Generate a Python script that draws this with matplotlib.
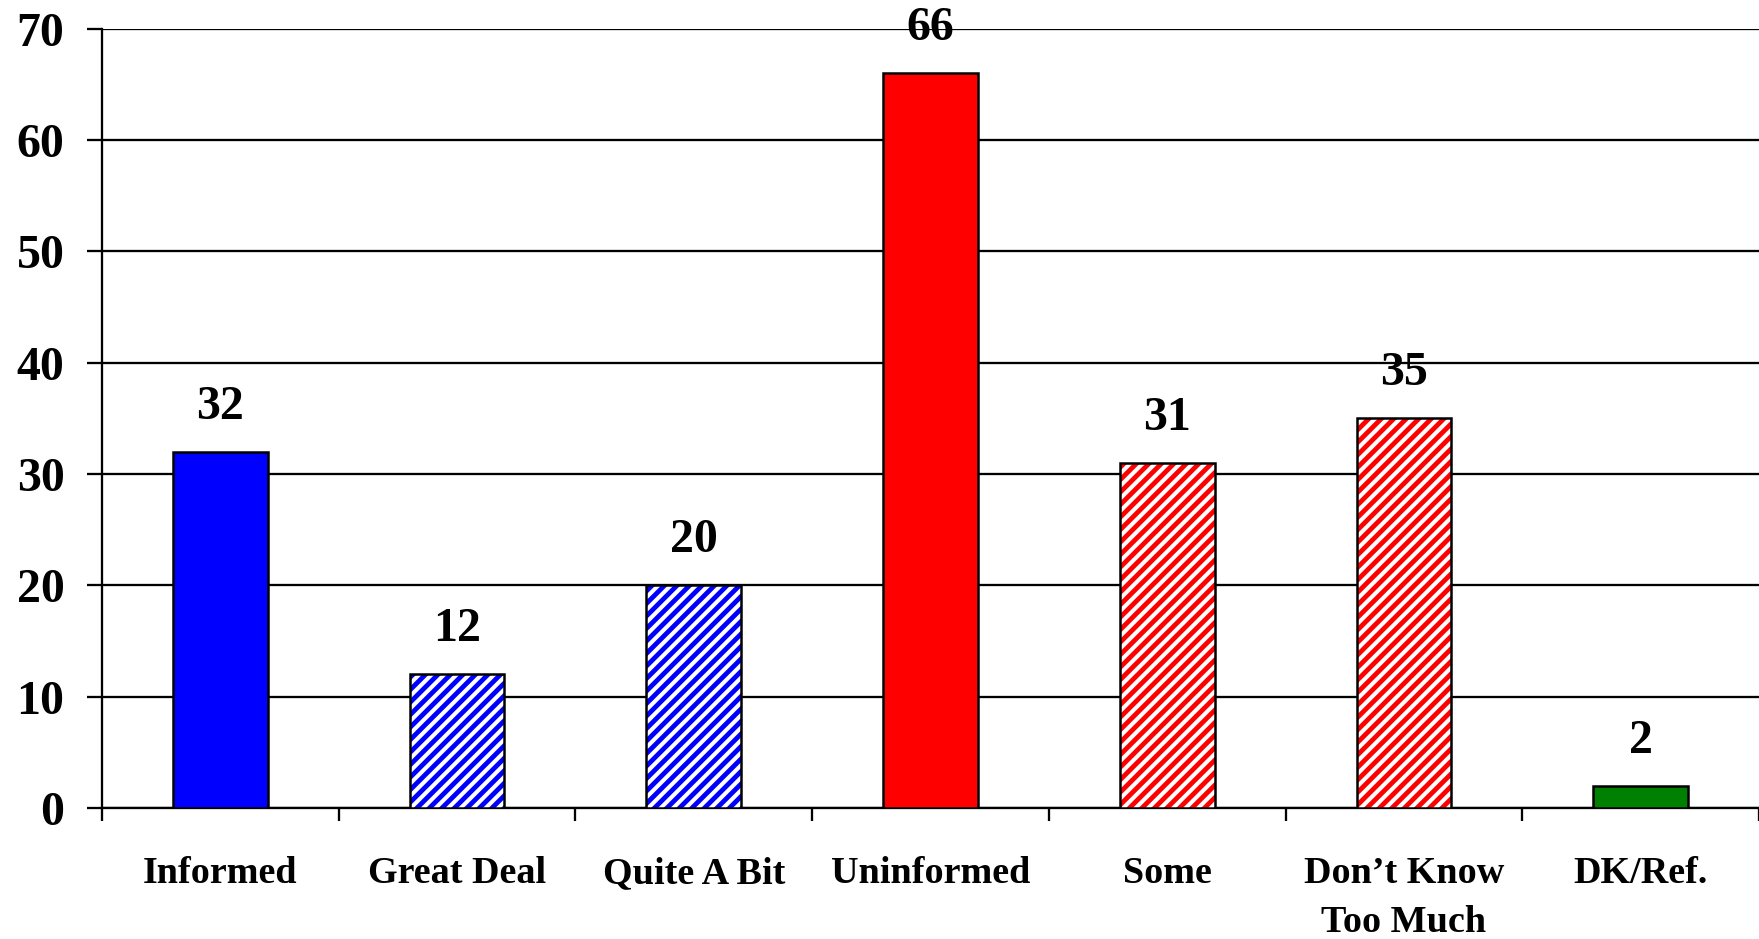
import matplotlib.pyplot as plt
import numpy as np

# data
categories = ['Informed', 'Great Deal', 'Quite A Bit', 'Uninformed', 'Some',
              "Don\u2019t Know\nToo Much", 'DK/Ref.']
values = [32, 12, 20, 66, 31, 35, 2]
colors = ['#0000ff', '#0000ff', '#0000ff', '#ff0000', '#ff0000', '#ff0000', '#008000']
hatched = [False, True, True, False, True, True, False]

plt.rcParams['font.family'] = ['Liberation Serif', 'DejaVu Serif']
plt.rcParams['font.weight'] = 'bold'
plt.rcParams['hatch.linewidth'] = 2.3

fig = plt.figure(figsize=(1759/150, 939/150), dpi=150)
ax = fig.add_axes([102/1759, 1 - 808/939, 1 - 102/1759, (808 - 28.7)/939])

x = np.arange(len(values))
width = 0.4

# fill (hatched ones get white face with coloured hatch), then black outline on top
for xi, v, c, h in zip(x, values, colors, hatched):
    if h:
        ax.bar(xi, v, width, facecolor='white', edgecolor=c, hatch='////', linewidth=0, zorder=3)
    else:
        ax.bar(xi, v, width, facecolor=c, linewidth=0, zorder=3)
outline = ax.bar(x, values, width, facecolor='none', edgecolor='black', linewidth=1.2, zorder=4)
ax.bar_label(outline, labels=[str(v) for v in values], padding=11,
             fontsize=23, fontweight='bold', clip_on=False)

ax.set_xlim(-0.5, len(values) - 0.5)
ax.set_ylim(0, 70)
ax.set_yticks(range(0, 71, 10))
ax.yaxis.grid(True, color='black', linewidth=1.1)
ax.set_axisbelow(True)

ax.set_xticks(x)
ax.set_xticklabels(categories, fontsize=18.3, fontweight='bold', linespacing=1.52)
ax.set_xticks(np.arange(-0.5, len(values)), minor=True)
ax.tick_params(axis='x', which='major', length=0, pad=23)
ax.tick_params(axis='x', which='minor', length=6, width=1.1, direction='out')
ax.tick_params(axis='y', length=7, width=1.1, pad=11, labelsize=23)

for s in ['top', 'right']:
    ax.spines[s].set_visible(False)
ax.spines['left'].set_linewidth(1.1)
ax.spines['bottom'].set_linewidth(1.1)

fig.savefig('out.png', dpi=150)
